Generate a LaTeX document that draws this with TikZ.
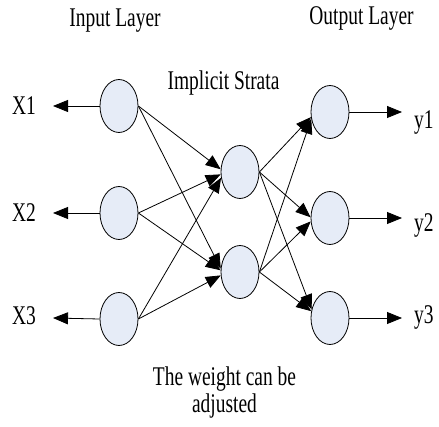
\documentclass[tikz,border=0pt]{standalone}
\usepackage{fontspec}
\setmainfont{Liberation Serif}
\usepackage{graphicx}
\usetikzlibrary{shapes.geometric,arrows.meta}
\definecolor{nodefill}{RGB}{230,236,247}
\newcommand{\cond}[1]{\scalebox{0.72}[1]{#1}}
\tikzset{
  neuron/.style={ellipse,draw=black,line width=0.8pt,fill=nodefill,minimum width=38pt,minimum height=53pt,inner sep=0pt},
  conn/.style={line width=0.8pt,-{Triangle[length=15pt,width=12pt]}},
  lbl/.style={anchor=base,inner sep=0pt,font=\fontsize{27pt}{29pt}\selectfont}
}
\begin{document}
\begin{tikzpicture}[x=1pt,y=-1pt]
\useasboundingbox (0,0) rectangle (439,427);
% nodes
\node[neuron] (i1) at (119,106) {};
\node[neuron] (i2) at (119,213) {};
\node[neuron] (i3) at (119,319) {};
\node[neuron] (h1) at (240,172) {};
\node[neuron] (h2) at (240,272) {};
\node[neuron] (o1) at (330,112) {};
\node[neuron] (o2) at (330,218) {};
\node[neuron] (o3) at (330,318) {};
% labels
\node[lbl] (tin) at (115,27) {\cond{Input Layer}};
\node[lbl] (tout) at (361.5,25) {\cond{Output Layer}};
\node[lbl] (timp) at (223.5,90) {\cond{Implicit Strata}};
\node[lbl] (tw1) at (224.5,385) {\cond{The weight can be}};
\node[lbl] (tw2) at (224.5,412) {\cond{adjusted}};
\node[lbl] (x1) at (24,115) {\cond{X1}};
\node[lbl] (x2) at (24,222) {\cond{X2}};
\node[lbl] (x3) at (24,325) {\cond{X3}};
\node[lbl,anchor=base west] (y1) at (414,129) {\cond{y1}};
\node[lbl,anchor=base west] (y2) at (414,232) {\cond{y2}};
\node[lbl,anchor=base west] (y3) at (414,324) {\cond{y3}};
% free arrow ends
\coordinate (ax1) at (53,106);
\coordinate (ax2) at (53,213);
\coordinate (ax3) at (53,318);
\coordinate (ay1) at (402,112);
\coordinate (ay2) at (402,218);
\coordinate (ay3) at (402,318);
% input arrows (pointing outwards)
\draw[conn] (i1.west) -- (ax1);
\draw[conn] (i2.west) -- (ax2);
\draw[conn] (i3.west) -- (ax3);
% input -> hidden
\draw[conn] (i1.east) -- (h1.172);
\draw[conn] (i2.east) -- (h1.187);
\draw[conn] (i3.east) -- (h1.197);
\draw[conn] (i1.east) -- (h2.170);
\draw[conn] (i2.east) -- (h2.175);
\draw[conn] (i3.east) -- (h2.190);
% hidden -> output
\draw[conn] (h1.east) -- (o1.195);
\draw[conn] (h2.east) -- (o1.200);
\draw[conn] (h1.east) -- (o2.178);
\draw[conn] (h2.east) -- (o2.190);
\draw[conn] (h1.east) -- (o3.155);
\draw[conn] (h2.east) -- (o3.160);
% output arrows
\draw[conn] (o1.east) -- (ay1);
\draw[conn] (o2.east) -- (ay2);
\draw[conn] (o3.east) -- (ay3);
\end{tikzpicture}
\end{document}
